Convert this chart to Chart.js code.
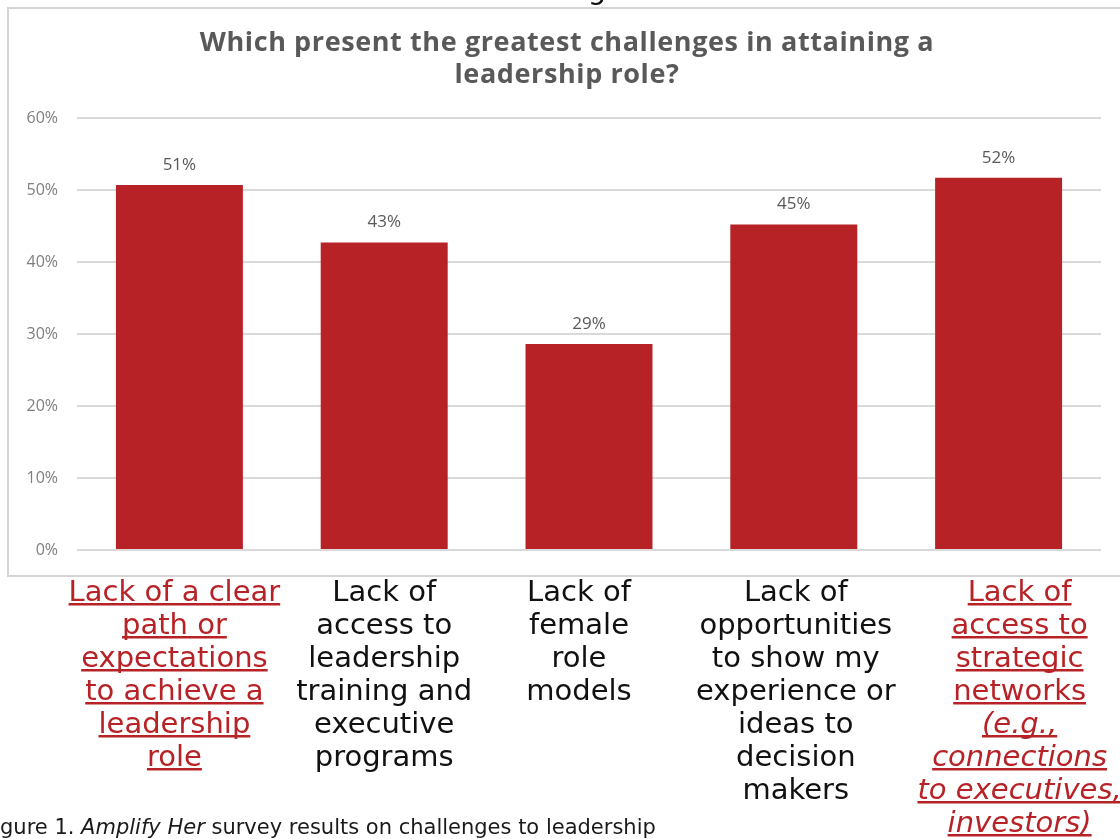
<!DOCTYPE html>
<html>
<head>
<meta charset="utf-8">
<script src="https://cdn.jsdelivr.net/npm/chart.js@4.4.1/dist/chart.umd.min.js"></script>
<style>
  html, body { margin: 0; padding: 0; background: #ffffff; }
  #wrap { width: 1120px; height: 839px; position: relative; overflow: hidden; }
  canvas { display: block; }
</style>
</head>
<body>
<div id="wrap"><canvas id="c" width="1120" height="839"></canvas></div>
<script>
// ---- data ----
const titleLines = ["Which present the greatest challenges in attaining a", "leadership role?"];
const categoryLines = [
  ["Lack of a clear", "path or", "expectations", "to achieve a", "leadership", "role"],
  ["Lack of", "access to", "leadership", "training and", "executive", "programs"],
  ["Lack of", "female", "role", "models"],
  ["Lack of", "opportunities", "to show my", "experience or", "ideas to", "decision", "makers"],
  ["Lack of", "access to", "strategic", "networks", "(e.g.,", "connections", "to executives,", "investors)"]
];
const categoryHighlighted = [true, false, false, false, true];
const categoryItalicFrom = [99, 99, 99, 99, 4];
const values = [50.7, 42.7, 28.6, 45.2, 51.7];
const valueLabels = ["51%", "43%", "29%", "45%", "52%"];
const yTicks = [0, 10, 20, 30, 40, 50, 60];
const captionPrefix = "Fi";
const captionParts = [
  { text: "gure 1. ", italic: false },
  { text: "Amplify Her", italic: true },
  { text: " survey results on challenges to leadership", italic: false }
];

const RED = '#B72226';
const LABEL_FONT = '"DejaVu Sans", "Noto Sans", sans-serif';

const decorPlugin = {
  id: 'decor',
  beforeDraw(chart) {
    const ctx = chart.ctx;
    ctx.save();
    ctx.fillStyle = '#ffffff';
    ctx.fillRect(0, 0, chart.width, chart.height);
    // chart frame
    ctx.strokeStyle = '#d4d4d4';
    ctx.lineWidth = 2;
    ctx.strokeRect(8, 8, chart.width + 10, chart.scales.y.bottom + 26 - 8);
    // descender of text above the chart
    ctx.fillStyle = '#111111';
    ctx.font = '400 29px ' + LABEL_FONT;
    ctx.textAlign = 'center';
    ctx.textBaseline = 'alphabetic';
    ctx.fillText('g', 597, -1);
    // title
    ctx.fillStyle = '#595959';
    ctx.font = '700 27px "Open Sans", sans-serif';
    ctx.letterSpacing = '0.6px';
    ctx.textBaseline = 'middle';
    titleLines.forEach((t, i) => ctx.fillText(t, 567, 43 + i * 32));
    ctx.letterSpacing = '0px';
    ctx.restore();
  },
  afterDatasetsDraw(chart) {
    const ctx = chart.ctx;
    const meta = chart.getDatasetMeta(0);
    ctx.save();
    ctx.fillStyle = '#595959';
    ctx.font = '400 17px "Open Sans", sans-serif';
    ctx.textAlign = 'center';
    ctx.textBaseline = 'middle';
    meta.data.forEach((bar, i) => {
      ctx.fillText(valueLabels[i], bar.x, bar.y - 20);
    });
    ctx.restore();
  },
  afterDraw(chart, args, opts) {
    const ctx = chart.ctx;
    const xs = chart.scales.x;
    const base = chart.scales.y.bottom + 51;
    const lh = 33;
    const shifts = opts.labelShift || [];
    ctx.save();
    ctx.textAlign = 'center';
    ctx.textBaseline = 'alphabetic';
    categoryLines.forEach((lines, i) => {
      const cx = xs.getPixelForValue(i) + (shifts[i] || 0);
      lines.forEach((ln, j) => {
        const italic = j >= categoryItalicFrom[i];
        ctx.font = (italic ? 'italic ' : '') + '400 29px ' + LABEL_FONT;
        const y = base + j * lh;
        if (categoryHighlighted[i]) {
          ctx.fillStyle = RED;
          ctx.fillText(ln, cx, y);
          const w = ctx.measureText(ln).width;
          ctx.fillRect(cx - w / 2, y + 2, w, 2.5);
        } else {
          ctx.fillStyle = '#111111';
          ctx.fillText(ln, cx, y);
        }
      });
    });
    // caption
    ctx.textAlign = 'left';
    ctx.fillStyle = '#1a1a1a';
    ctx.font = '400 21px ' + LABEL_FONT;
    let x = -ctx.measureText(captionPrefix).width;
    ctx.fillText(captionPrefix, x, 834);
    x += ctx.measureText(captionPrefix).width;
    captionParts.forEach(p => {
      ctx.font = (p.italic ? 'italic ' : '') + '400 21px ' + LABEL_FONT;
      ctx.fillText(p.text, x, 834);
      x += ctx.measureText(p.text).width;
    });
    ctx.restore();
  }
};

new Chart(document.getElementById('c'), {
  type: 'bar',
  data: {
    labels: categoryLines.map(l => l.join(' ')),
    datasets: [{
      data: values,
      backgroundColor: RED,
      borderWidth: 0,
      barPercentage: 0.62,
      categoryPercentage: 1.0
    }]
  },
  options: {
    responsive: false,
    animation: false,
    devicePixelRatio: 1,
    layout: { padding: { left: 8, right: 19, top: 118, bottom: 0 } },
    plugins: {
      legend: { display: false },
      tooltip: { enabled: false },
      title: { display: false },
      decor: { labelShift: [-5, 0, -10, 2, 21] }
    },
    scales: {
      x: {
        grid: { display: false },
        border: { display: false },
        ticks: { display: false },
        afterFit: s => { s.height = 289; }
      },
      y: {
        min: 0,
        max: 60,
        afterBuildTicks: s => { s.ticks = yTicks.map(v => ({ value: v })); },
        ticks: {
          callback: v => v + '%',
          color: '#7f7f7f',
          font: { family: '"Open Sans", sans-serif', size: 16 },
          padding: 19
        },
        grid: { color: '#d9d9d9', lineWidth: 2, drawTicks: false },
        border: { display: false },
        afterFit: s => { s.width = 69; }
      }
    }
  },
  plugins: [decorPlugin]
});
</script>
</body>
</html>
